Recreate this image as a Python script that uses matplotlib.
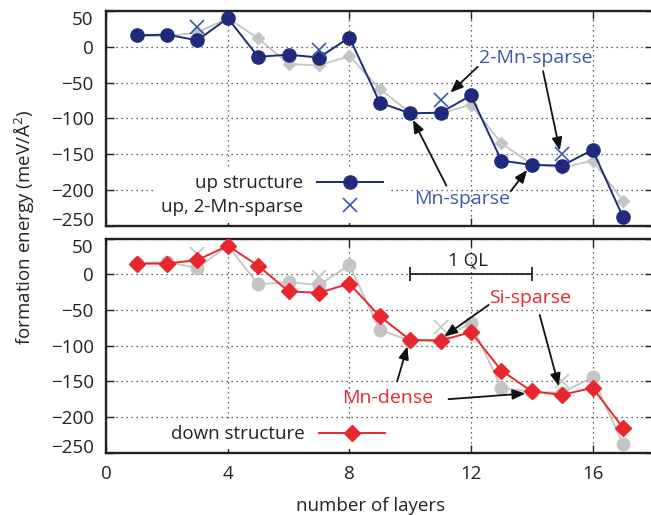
import matplotlib
matplotlib.use('Agg')
import matplotlib.pyplot as plt

plt.rcParams['font.family'] = ['Open Sans', 'DejaVu Sans']
plt.rcParams['mathtext.fontset'] = 'custom'
plt.rcParams['mathtext.rm'] = 'Open Sans'
plt.rcParams['mathtext.it'] = 'Open Sans'

# ---------------- data ----------------
layers = list(range(1, 18))
up_structure = [16, 17, 9, 40, -14, -11, -15, 13, -78, -93, -92, -68, -159, -165, -166, -144, -238]
down_structure = [15, 15, 20, 40, 12, -24, -26, -13, -59, -92, -93, -81, -135, -164, -169, -159, -215]
sparse_layers = [3, 7, 11, 15]
up_2mn_sparse = [28, -4, -74, -150]
xticks = [0, 4, 8, 12, 16]
yticks = [50, 0, -50, -100, -150, -200, -250]
ql_range = [10, 14]
ql_level = 0

NAVY = '#1f2a7c'
BLUE = '#3a57b0'
RED = '#e8262d'
GRAY = '#c4c4c4'
FS = 13.5

fig = plt.figure(figsize=(6.51, 5.15), dpi=100)
ax1 = fig.add_axes([0.1631, 0.5617, 0.8406, 0.4169])
ax2 = fig.add_axes([0.1631, 0.121, 0.8406, 0.4157])


def style(ax, show_xlabels):
    ax.set_xlim(0, 18)
    ax.set_ylim(-250, 50)
    ax.set_xticks(xticks)
    ax.set_yticks(yticks)
    ax.grid(True, linestyle=(0, (1, 3)), color='#333333', linewidth=0.9)
    ax.set_axisbelow(True)
    ax.tick_params(direction='in', length=6, width=1.0, top=True, right=True,
                   labelsize=FS, colors='#222222')
    ax.tick_params(axis='y', pad=9)
    ax.tick_params(axis='x', pad=9)
    if not show_xlabels:
        ax.tick_params(axis='x', labelbottom=False)
    for s in ax.spines.values():
        s.set_linewidth(1.7)
        s.set_color('#222222')


def pin_extreme_labels(ax):
    # keep the extreme y labels inside the panel, as in the reference
    ticks = ax.yaxis.get_major_ticks(len(yticks))
    locs = list(ax.yaxis.get_majorticklocs())
    for tick, v in zip(ticks, locs):
        if v == max(yticks):
            tick.label1.set_verticalalignment('top')
        elif v == min(yticks):
            tick.label1.set_verticalalignment('baseline')


def arrow(ax, tail, tip):
    ax.annotate('', xy=tip, xytext=tail,
                arrowprops=dict(arrowstyle='-|>,head_length=0.55,head_width=0.22',
                                color='#111111', lw=1.3, shrinkA=0, shrinkB=0,
                                mutation_scale=14))


# ---------------- top panel ----------------
style(ax1, False)
ax1.plot(layers, down_structure, color=GRAY, lw=1.3, marker='D', ms=6.5, zorder=2)
l1, = ax1.plot(layers, up_structure, color=NAVY, lw=1.4, marker='o', ms=9.5, zorder=3,
               label='up structure')
l2, = ax1.plot(sparse_layers, up_2mn_sparse, ls='none', marker='x', ms=10, mew=1.2,
               color=BLUE, zorder=4, label='up, 2-Mn-sparse')
leg1 = ax1.legend(handles=[l1, l2], loc='center right', bbox_to_anchor=(0.519, 0.143),
                  markerfirst=False, frameon=True, framealpha=1, facecolor='white',
                  edgecolor='none', fontsize=FS, handlelength=3.5, handletextpad=0.75,
                  labelspacing=0.3, borderpad=0.4, borderaxespad=0, fancybox=False)
for t in leg1.get_texts():
    t.set_color('#222222')

ax1.text(14.14, -16, '2-Mn-sparse', color=BLUE, fontsize=FS + 0.5, ha='center', va='center')
arrow(ax1, (12.22, -28), (11.32, -64))
arrow(ax1, (14.37, -34), (14.92, -145))
ax1.text(11.71, -213, 'Mn-sparse', color=BLUE, fontsize=FS + 0.5, ha='center', va='center')
arrow(ax1, (11.19, -194), (10.09, -102))
arrow(ax1, (13.30, -202), (13.85, -172))

# ---------------- bottom panel ----------------
style(ax2, True)
ax2.plot(layers, up_structure, color=GRAY, lw=1.3, marker='o', ms=9, zorder=2)
ax2.plot(sparse_layers, up_2mn_sparse, ls='none', marker='x', ms=10, mew=1.2,
         color=GRAY, zorder=2)
l3, = ax2.plot(layers, down_structure, color=RED, lw=1.4, marker='D', ms=8, zorder=3,
               label='down structure')
leg2 = ax2.legend(handles=[l3], loc='center right', bbox_to_anchor=(0.519, 0.086),
                  markerfirst=False, frameon=True, framealpha=1, facecolor='white',
                  edgecolor='none', fontsize=FS, handlelength=3.5, handletextpad=0.75,
                  borderpad=0.3, borderaxespad=0, fancybox=False)
for t in leg2.get_texts():
    t.set_color('#222222')

ql_center = (ql_range[0] + ql_range[1]) / 2
ax2.errorbar([ql_center], [ql_level], xerr=[(ql_range[1] - ql_range[0]) / 2], color='#222222',
             lw=1.3, capsize=5, capthick=1.3, zorder=4)
ax2.text(ql_center - 0.1, 18, '1 QL', color='#222222', fontsize=FS, ha='center', va='center')

ax2.text(13.93, -33, 'Si-sparse', color=RED, fontsize=FS + 0.5, ha='center', va='center')
arrow(ax2, (12.58, -43), (11.12, -87))
arrow(ax2, (14.26, -57), (14.89, -157))
ax2.text(9.25, -174, 'Mn-dense', color=RED, fontsize=FS + 0.5, ha='center', va='center')
arrow(ax2, (9.57, -150), (9.91, -101))
arrow(ax2, (11.26, -175), (13.79, -167))

ax2.set_xlabel('number of layers', fontsize=FS, color='#222222', labelpad=10, x=0.484)
fig.text(24 / 651, (515 - 227) / 515, 'formation energy (meV/Å$^{2}$)', rotation=90,
         fontsize=FS, color='#222222', ha='center', va='center')

fig.canvas.draw()
pin_extreme_labels(ax1)
pin_extreme_labels(ax2)

fig.savefig('out.png', dpi=100)
